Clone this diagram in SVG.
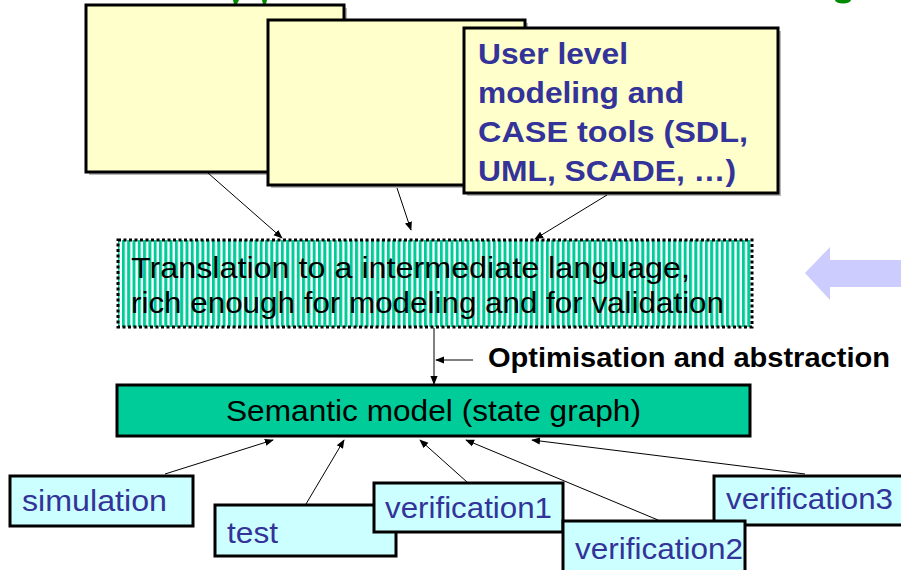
<svg xmlns="http://www.w3.org/2000/svg" width="901" height="570" viewBox="0 0 901 570">
  <style>
    .tool { fill: #ffffcc; stroke: #000; stroke-width: 3; }
    .shadow { fill: #b8b8b8; }
    .use { fill: #ccffff; stroke: #000; stroke-width: 3; }
    .usetxt { font-family: "Liberation Sans", Arial, sans-serif; font-size: 30px; fill: #333399; }
    .blk { font-family: "Liberation Sans", Arial, sans-serif; font-size: 30px; fill: #000; }
    .toolTxt { font-family: "Liberation Sans", Arial, sans-serif; font-size: 30px; font-weight: bold; fill: #333399; }
    .note { font-family: "Liberation Sans", Arial, sans-serif; font-size: 27px; font-weight: bold; fill: #000; }
    .conn { stroke: #000; stroke-width: 1; fill: none; marker-end: url(#tip); }
  </style>
  <defs>
    <marker id="tip" viewBox="0 0 10 10" refX="9" refY="5" markerWidth="9" markerHeight="9" markerUnits="userSpaceOnUse" orient="auto">
      <path d="M0,1 L10,5 L0,9 Z" fill="#000"/>
    </marker>
    <pattern id="stripes" x="0" y="0" width="5.3" height="10" patternUnits="userSpaceOnUse">
      <rect x="0" y="0" width="5.3" height="10" fill="#ffffff"/>
      <rect x="0" y="0" width="3" height="10" fill="#00cc99"/>
    </pattern>
  </defs>
  <rect width="901" height="570" fill="#ffffff"/>

  <!-- clipped title glyph remnants at the top edge -->
  <path d="M233,0 h6 l-2,4 h-3 Z" fill="#008a00"/>
  <path d="M262,0 h5 l-1,4 h-3 Z" fill="#008a00"/>
  <ellipse cx="843" cy="0" rx="8" ry="3.5" fill="#008a00"/>

  <!-- modeling tool boxes -->
  <g id="tool-a">
    <rect class="shadow" x="89" y="8" width="258" height="167"/>
    <rect class="tool" x="86" y="5" width="258" height="167"/>
  </g>
  <g id="tool-b">
    <rect class="shadow" x="271" y="23" width="257" height="165"/>
    <rect class="tool" x="268" y="20" width="257" height="165"/>
  </g>
  <g id="tool-c">
    <rect class="shadow" x="467" y="31" width="314" height="165"/>
    <rect class="tool" x="464" y="28" width="314" height="165"/>
    <text class="toolTxt" x="478" y="64" textLength="150" lengthAdjust="spacingAndGlyphs">User level</text>
    <text class="toolTxt" x="478" y="103" textLength="206" lengthAdjust="spacingAndGlyphs">modeling and</text>
    <text class="toolTxt" x="478" y="142" textLength="270" lengthAdjust="spacingAndGlyphs">CASE tools (SDL,</text>
    <text class="toolTxt" x="478" y="181" textLength="258" lengthAdjust="spacingAndGlyphs">UML, SCADE, …)</text>
  </g>

  <!-- intermediate language box -->
  <g id="translation">
    <rect x="118" y="240" width="634" height="87" fill="url(#stripes)" stroke="#000" stroke-width="3" stroke-dasharray="3,2.5"/>
    <text class="blk" x="131" y="278" textLength="559" lengthAdjust="spacingAndGlyphs">Translation to a intermediate language,</text>
    <text class="blk" x="131" y="313" textLength="593" lengthAdjust="spacingAndGlyphs">rich enough for modeling and for validation</text>
  </g>

  <!-- side arrow -->
  <g id="side-arrow">
    <path d="M805,273 L830,247 L830,260 L901,260 L901,287 L830,287 L830,300 Z" fill="#ccccff"/>
  </g>

  <!-- semantic model -->
  <g id="semantic">
    <rect x="117" y="385" width="633" height="51" fill="#00cc99" stroke="#000" stroke-width="3"/>
    <text class="blk" x="226" y="421" textLength="415" lengthAdjust="spacingAndGlyphs">Semantic model (state graph)</text>
  </g>

  <text class="note" x="488" y="367" textLength="402" lengthAdjust="spacingAndGlyphs">Optimisation and abstraction</text>

  <!-- usage boxes -->
  <g id="simulation">
    <rect class="use" x="10" y="476" width="183" height="50"/>
    <text class="usetxt" x="22" y="511" textLength="145" lengthAdjust="spacingAndGlyphs">simulation</text>
  </g>
  <g id="test">
    <rect class="use" x="215" y="505" width="181" height="51"/>
    <text class="usetxt" x="227" y="543" textLength="51" lengthAdjust="spacingAndGlyphs">test</text>
  </g>
  <g id="verification1">
    <rect class="use" x="374" y="483" width="189" height="49"/>
    <text class="usetxt" x="385" y="518" textLength="167" lengthAdjust="spacingAndGlyphs">verification1</text>
  </g>
  <g id="verification3">
    <rect class="use" x="714" y="476" width="190" height="49"/>
    <text class="usetxt" x="726" y="509" textLength="167" lengthAdjust="spacingAndGlyphs">verification3</text>
  </g>
  <g id="verification2">
    <rect class="use" x="563" y="521" width="182" height="55"/>
    <text class="usetxt" x="575" y="559" textLength="168" lengthAdjust="spacingAndGlyphs">verification2</text>
  </g>

  <!-- connectors -->
  <g id="connectors">
    <line class="conn" x1="208" y1="173" x2="282" y2="238"/>
    <line class="conn" x1="397" y1="188" x2="411" y2="230"/>
    <line class="conn" x1="607" y1="195" x2="535" y2="239"/>
    <line class="conn" x1="434" y1="328" x2="434" y2="384"/>
    <line class="conn" x1="473" y1="360" x2="436" y2="360"/>
    <line class="conn" x1="165" y1="474" x2="273" y2="440"/>
    <line class="conn" x1="306" y1="504" x2="344" y2="440"/>
    <line class="conn" x1="467" y1="482" x2="420" y2="440"/>
    <line class="conn" x1="658" y1="520" x2="466" y2="440"/>
    <line class="conn" x1="805" y1="474" x2="532" y2="440"/>
  </g>
</svg>
